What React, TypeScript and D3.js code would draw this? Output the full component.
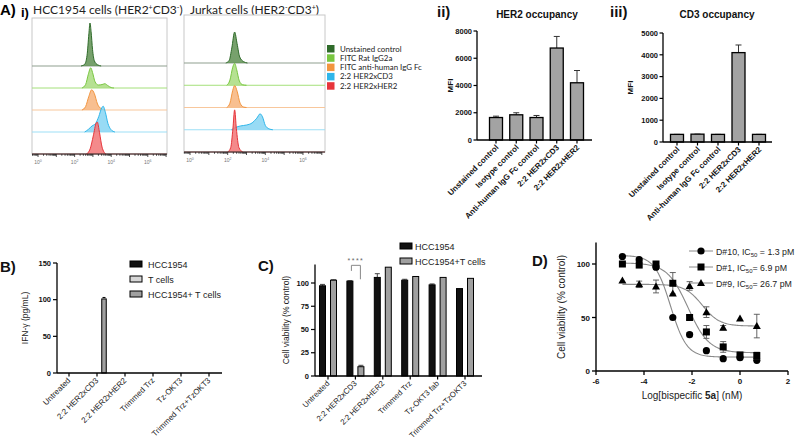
import React from 'react'
import * as d3 from 'd3'

const ARIAL = '"Liberation Sans", Arial, sans-serif'
const CALIBRI = 'Lato, "Open Sans", sans-serif'

// A i) flow histograms: [log10 fluorescence, relative count]
const flowSeries = ['Unstained control', 'FITC Rat IgG2a', 'FITC anti-human IgG Fc', '2:2 HER2xCD3', '2:2 HER2xHER2']
const flowStroke = ['#2f6b2a', '#78c640', '#f2953f', '#2fb6ea', '#e7353b']
const flowFill = ['#5f9152', '#a9dc7f', '#f7b47c', '#86d5f3', '#f27577']
const flowBase = ['#8f9f8f', '#a4e07a', '#f8c79c', '#9ddff6', '#f29a9a']
const flowDecades = [0, 2, 4, 6]

const hccHist: [number, number][][] = [
  [[2.35, 0], [2.55, 4], [2.68, 25], [2.78, 75], [2.84, 100], [2.9, 80], [2.98, 38], [3.08, 12], [3.25, 3], [3.45, 0]],
  [[2.4, 0], [2.6, 8], [2.75, 32], [2.88, 47], [2.98, 36], [3.12, 14], [3.3, 7], [3.5, 8], [3.65, 10], [3.8, 6], [4.0, 1], [4.15, 0]],
  [[2.4, 0], [2.6, 8], [2.78, 32], [2.93, 47], [3.08, 38], [3.25, 14], [3.45, 3], [3.65, 0]],
  [[2.55, 0], [2.75, 6], [2.95, 14], [3.15, 20], [3.32, 36], [3.48, 56], [3.56, 60], [3.68, 46], [3.82, 20], [3.98, 6], [4.2, 0]],
  [[2.65, 0], [2.85, 12], [3.02, 42], [3.18, 72], [3.24, 74], [3.36, 50], [3.5, 16], [3.7, 0]],
]
const jurkatHist: [number, number][][] = [
  [[1.9, 0], [2.08, 6], [2.22, 35], [2.37, 72], [2.5, 45], [2.64, 14], [2.85, 3], [3.05, 0]],
  [[1.95, 0], [2.12, 12], [2.27, 42], [2.37, 51], [2.48, 36], [2.62, 10], [2.8, 1], [3.0, 0]],
  [[1.95, 0], [2.12, 10], [2.27, 40], [2.37, 51], [2.5, 38], [2.66, 10], [2.85, 1], [3.0, 0]],
  [[2.2, 0], [2.4, 5], [2.7, 9], [3.0, 11], [3.3, 16], [3.55, 27], [3.72, 37], [3.85, 30], [4.0, 10], [4.2, 2], [4.4, 0]],
  [[2.0, 0], [2.16, 10], [2.28, 55], [2.37, 98], [2.46, 55], [2.6, 10], [2.8, 0]],
]

// A ii / iii) occupancy
const occCats = ['Unstained control', 'Isotype control', 'Anti-human IgG Fc control', '2:2 HER2xCD3', '2:2 HER2xHER2']
const her2Mean = [1650, 1850, 1650, 6750, 4200]
const her2Err = [100, 150, 150, 850, 900]
const cd3Mean = [350, 360, 350, 4100, 350]
const cd3Err = [0, 0, 0, 350, 0]

// B) IFN-gamma
const ifnCats = ['Untreated', '2:2 HER2xCD3', '2:2 HER2xHER2', 'Trimmed Trz', 'Tz-OKT3', 'Trimmed Trz+TzOKT3']
const ifnSeries = ['HCC1954', 'T cells', 'HCC1954+ T cells']
const ifnHcc = [0, 0, 0, 0, 0, 0]
const ifnT = [0, 0, 0, 0, 0, 0]
const ifnCo = [0, 101, 0, 0, 0, 0]
const ifnCoErr = [0, 2, 0, 0, 0, 0]

// C) viability
const viaCats = ['Untreated', '2:2 HER2xCD3', '2:2 HER2xHER2', 'Trimmed Trz', 'Tz-OKT3 fab', 'Trimmed Trz+TzOKT3']
const viaSeries = ['HCC1954', 'HCC1954+T cells']
const viaHcc = [97, 102, 106, 103, 98, 94]
const viaHccErr = [1.5, 0.5, 4, 1, 1, 0]
const viaCo = [103, 10, 117, 107, 106, 105]
const viaCoErr = [0.5, 1.5, 0, 0, 0, 0]

// D) dose response
const doseLog = [-4.9, -4.2, -3.5, -2.8, -2.1, -1.4, -0.7, 0, 0.7]
const donors = ['D#10', 'D#1', 'D#9']
const ic50Text = [' = 1.3 pM', '= 6.9 pM', '= 26.7 pM']
const d10Mean = [107, 104, 97, 50, 34, 19, 11.5, 12.5, 10]
const d10Err = [1, 1, 2, 1, 2, 1, 1, 1, 1]
const d1Mean = [100, 99, 100, 82, 50, 36.5, 22.5, 15, 14.5]
const d1Err = [1, 1, 2, 10, 2, 6, 5, 2, 3]
const d9Mean = [84.5, 81, 79, 72.5, 79.5, 55, 40.5, 49, 42]
const d9Err = [1, 3, 6, 1, 4, 5, 2, 1, 11]
// 4PL fit: top, bottom, logIC50 (nM), hill
const fitTop = [108, 101, 81]
const fitBottom = [13, 17, 42]
const fitLogIC50 = [-2.89, -2.16, -1.57]
const fitHill = [1.3, 1.0, 1.2]

function Sup({ children }: { children: React.ReactNode }) {
  return <tspan fontSize={7} dy={-4}>{children}</tspan>
}

function FlowPlot({ hist, x0, x1, y0, y1, firstBase, domain }: any) {
  const x = d3.scaleLinear().domain(domain).range([x0, x1])
  const h = d3.scaleLinear().domain([0, 100]).range([0, 43])
  const gap = (y1 - firstBase) / 4
  const minor: number[] = []
  d3.range(-1, 8).forEach(d => d3.range(1, 10).forEach(k => {
    const v = d + Math.log10(k)
    if (v >= domain[0] && v <= domain[1]) minor.push(v)
  }))
  return (
    <g>
      <rect x={x0} y={y0} width={x1 - x0} height={y1 - y0} fill="#fff" stroke="#c8c8c8" strokeWidth={1} />
      {hist.map((pts: [number, number][], i: number) => {
        const base = firstBase + i * gap
        const area = d3.area<[number, number]>()
          .x(d => x(d[0])).y0(base).y1(d => base - h(d[1]))
          .curve(d3.curveMonotoneX)
        const line = d3.line<[number, number]>()
          .x(d => x(d[0])).y(d => base - h(d[1]))
          .curve(d3.curveMonotoneX)
        return (
          <g key={i}>
            <line x1={x0} x2={x1} y1={base} y2={base} stroke={flowBase[i]} strokeWidth={1} />
            <path d={area(pts) || ''} fill={flowFill[i]} fillOpacity={0.85} />
            <path d={line(pts) || ''} fill="none" stroke={flowStroke[i]} strokeWidth={1} />
          </g>
        )
      })}
      <line x1={x0} x2={x1} y1={y1} y2={y1} stroke="#222" strokeWidth={1} />
      {minor.map((v, i) => (
        <line key={i} x1={x(v)} x2={x(v)} y1={y1} y2={y1 + (Math.abs(v - Math.round(v)) < 1e-6 ? 3 : 1.8)} stroke="#222" strokeWidth={0.8} />
      ))}
      {flowDecades.map(d => (
        <text key={d} x={x(d)} y={y1 + 10} fontSize={5} fill="#777" textAnchor="middle" fontFamily={ARIAL}>
          10<tspan fontSize={3.5} dy={-2}>{d}</tspan>
        </text>
      ))}
    </g>
  )
}

function Occupancy({ tag, tagX, title, titleX, mean, err, yMax, yStep, axisX, axisEnd, yBottom, yTop, xFirst, xLast, mfiX }: any) {
  const y = d3.scaleLinear().domain([0, yMax]).range([yBottom, yTop])
  const x = d3.scalePoint<string>().domain(occCats).range([xFirst, xLast])
  const bw = 13
  return (
    <g fontFamily={ARIAL} fill="#111">
      <text x={tagX} y={17} fontSize={15} fontWeight="bold">{tag}</text>
      <text x={titleX} y={18} fontSize={10} fontWeight="bold" textAnchor="middle">{title}</text>
      <text transform={`translate(${mfiX},${(yTop + yBottom) / 2}) rotate(-90)`} fontSize={8} fontWeight="bold" textAnchor="middle">MFI</text>
      {d3.range(0, yMax + 1, yStep).map(t => (
        <g key={t}>
          <line x1={axisX - 3.5} x2={axisX} y1={y(t)} y2={y(t)} stroke="#000" strokeWidth={1.2} />
          <text x={axisX - 5} y={y(t) + 2.7} fontSize={7.5} fontWeight="bold" textAnchor="end">{t}</text>
        </g>
      ))}
      {occCats.map((c, i) => {
        const cx = x(c)!
        return (
          <g key={c}>
            <line x1={cx} x2={cx} y1={y(mean[i])} y2={y(mean[i] + err[i])} stroke="#333" strokeWidth={1} />
            <line x1={cx - 3} x2={cx + 3} y1={y(mean[i] + err[i])} y2={y(mean[i] + err[i])} stroke="#333" strokeWidth={1} />
            <rect x={cx - bw / 2} y={y(mean[i])} width={bw} height={y(0) - y(mean[i])} fill="#a3a3a3" stroke="#000" strokeWidth={1.3} />
            <line x1={cx} x2={cx} y1={y(0)} y2={y(0) + 3.5} stroke="#000" strokeWidth={1.2} />
            <text transform={`translate(${cx + 3},${y(0) + 8}) rotate(-45)`} fontSize={8} fontWeight="bold" textAnchor="end">{c}</text>
          </g>
        )
      })}
      <line x1={axisX} x2={axisX} y1={yTop} y2={yBottom} stroke="#000" strokeWidth={1.3} />
      <line x1={axisX} x2={axisEnd} y1={yBottom} y2={yBottom} stroke="#000" strokeWidth={1.3} />
    </g>
  )
}

function PanelB() {
  const y = d3.scaleLinear().domain([0, 150]).range([373, 263])
  const x = d3.scalePoint<string>().domain(ifnCats).range([69, 209])
  const series = [ifnHcc, ifnT, ifnCo]
  const fills = ['#111', '#d6d6d6', '#a0a0a0']
  const bw = 4.5
  return (
    <g fontFamily={ARIAL} fill="#111">
      <text x={0} y={272} fontSize={15} fontWeight="bold">B)</text>
      <text transform={`translate(28,${(263 + 373) / 2}) rotate(-90)`} fontSize={8.5} textAnchor="middle" fill="#222">IFN-γ (pg/mL)</text>
      {y.ticks(3).map(t => (
        <g key={t}>
          <line x1={53} x2={57} y1={y(t)} y2={y(t)} stroke="#000" strokeWidth={1.2} />
          <text x={51} y={y(t) + 2.8} fontSize={7.5} fontWeight="bold" textAnchor="end">{t}</text>
        </g>
      ))}
      {ifnCats.map((c, i) => {
        const cx = x(c)!
        return (
          <g key={c}>
            {series.map((s, j) => s[i] > 0 && (
              <rect key={j} x={cx + (j - 1) * 7 - bw / 2} y={y(s[i])} width={bw} height={y(0) - y(s[i])} fill={fills[j]} stroke="#000" strokeWidth={1} />
            ))}
            {ifnCoErr[i] > 0 && (
              <line x1={cx + 5.5} x2={cx + 8.5} y1={y(ifnCo[i] + ifnCoErr[i])} y2={y(ifnCo[i] + ifnCoErr[i])} stroke="#000" strokeWidth={1} />
            )}
            <line x1={cx} x2={cx} y1={373} y2={376.5} stroke="#000" strokeWidth={1.2} />
            <text transform={`translate(${cx + 2},381) rotate(-45)`} fontSize={8} textAnchor="end" fill="#222">{c}</text>
          </g>
        )
      })}
      <line x1={57} x2={57} y1={263} y2={373} stroke="#000" strokeWidth={1.3} />
      <line x1={57} x2={222} y1={373} y2={373} stroke="#000" strokeWidth={1.3} />
      {ifnSeries.map((s, j) => (
        <g key={s}>
          <rect x={130} y={261 + j * 15} width={12} height={6} fill={fills[j]} stroke="#000" strokeWidth={1} />
          <text x={148} y={267.5 + j * 15} fontSize={9} fill="#222">{s}</text>
        </g>
      ))}
    </g>
  )
}

function PanelC() {
  const y = d3.scaleLinear().domain([0, 120]).range([376, 264.4])
  const x = d3.scalePoint<string>().domain(viaCats).range([328, 465])
  const bw = 6
  const series = [viaHcc, viaCo]
  const errs = [viaHccErr, viaCoErr]
  const fills = ['#111', '#a0a0a0']
  const c2 = x(viaCats[1])!
  return (
    <g fontFamily={ARIAL} fill="#111">
      <text x={258} y={271} fontSize={15} fontWeight="bold">C)</text>
      <text transform={`translate(289,${(264 + 376) / 2}) rotate(-90)`} fontSize={8.5} textAnchor="middle" fill="#222">Cell viability (% control)</text>
      {d3.range(0, 101, 25).map(t => (
        <g key={t}>
          <line x1={311} x2={315} y1={y(t)} y2={y(t)} stroke="#000" strokeWidth={1.2} />
          <text x={309} y={y(t) + 2.6} fontSize={7.5} fontWeight="bold" textAnchor="end">{t}</text>
        </g>
      ))}
      {viaCats.map((c, i) => {
        const cx = x(c)!
        return (
          <g key={c}>
            {series.map((s, j) => {
              const bx = cx + (j === 0 ? -5.5 : 5.5)
              return (
                <g key={j}>
                  {errs[j][i] > 0 && (
                    <g>
                      <line x1={bx} x2={bx} y1={y(s[i])} y2={y(s[i] + errs[j][i])} stroke="#444" strokeWidth={1} />
                      <line x1={bx - 2.5} x2={bx + 2.5} y1={y(s[i] + errs[j][i])} y2={y(s[i] + errs[j][i])} stroke="#444" strokeWidth={1} />
                    </g>
                  )}
                  <rect x={bx - bw / 2} y={y(s[i])} width={bw} height={y(0) - y(s[i])} fill={fills[j]} stroke="#000" strokeWidth={1} />
                </g>
              )
            })}
            <line x1={cx} x2={cx} y1={376} y2={379.5} stroke="#000" strokeWidth={1.2} />
            <text transform={`translate(${cx + 2},384) rotate(-45)`} fontSize={7.8} textAnchor="end" fill="#222">{c}</text>
          </g>
        )
      })}
      <path d={`M${c2 - 4},${y(113)}V${y(119)}H${c2 + 5}V${y(104)}`} fill="none" stroke="#888" strokeWidth={1} />
      <text x={c2 + 0.5} y={y(121.5)} fontSize={7} textAnchor="middle" fill="#666" letterSpacing={1.5}>****</text>
      <line x1={315} x2={315} y1={264.4} y2={376} stroke="#000" strokeWidth={1.3} />
      <line x1={315} x2={482} y1={376} y2={376} stroke="#000" strokeWidth={1.3} />
      {viaSeries.map((s, j) => (
        <g key={s}>
          <rect x={400} y={243 + j * 15} width={12} height={6} fill={fills[j]} stroke="#000" strokeWidth={1} />
          <text x={415} y={249.5 + j * 15} fontSize={9} fill="#222">{s}</text>
        </g>
      ))}
    </g>
  )
}

function Marker({ kind, cx, cy }: { kind: number; cx: number; cy: number }) {
  if (kind === 0) return <circle cx={cx} cy={cy} r={3.6} fill="#000" />
  if (kind === 1) return <rect x={cx - 3.5} y={cy - 3.5} width={7} height={7} fill="#000" />
  return <path d={`M${cx},${cy - 4}L${cx + 4},${cy + 3}L${cx - 4},${cy + 3}Z`} fill="#000" />
}

function PanelD() {
  const x = d3.scaleLinear().domain([-6, 2]).range([596, 788])
  const y = d3.scaleLinear().domain([0, 120]).range([371, 242.6])
  const means = [d10Mean, d1Mean, d9Mean]
  const errs = [d10Err, d1Err, d9Err]
  const curveX = d3.range(doseLog[0], doseLog[doseLog.length - 1] + 0.001, 0.05)
  return (
    <g fontFamily={ARIAL} fill="#111">
      <text x={532} y={266} fontSize={15} fontWeight="bold">D)</text>
      <text transform={`translate(565,${(243 + 371) / 2}) rotate(-90)`} fontSize={10} textAnchor="middle" fill="#222">Cell viability (% control)</text>
      {[0, 50, 100].map(t => (
        <g key={t}>
          <line x1={592} x2={596} y1={y(t)} y2={y(t)} stroke="#000" strokeWidth={1.3} />
          <text x={590} y={y(t) + 3} fontSize={8} fontWeight="bold" textAnchor="end">{t}</text>
        </g>
      ))}
      {x.ticks(4).map(t => (
        <g key={t}>
          <line x1={x(t)} x2={x(t)} y1={371} y2={375} stroke="#000" strokeWidth={1.3} />
          <text x={x(t)} y={384} fontSize={8} fontWeight="bold" textAnchor="middle">{t}</text>
        </g>
      ))}
      <text x={692} y={399} fontSize={10} textAnchor="middle" fill="#222">Log[bispecific <tspan fontWeight="bold">5a</tspan>] (nM)</text>
      {donors.map((dn, k) => {
        const fit = d3.line<number>()
          .x(v => x(v))
          .y(v => y(fitBottom[k] + (fitTop[k] - fitBottom[k]) / (1 + Math.pow(10, (v - fitLogIC50[k]) * fitHill[k]))))
        return <path key={dn} d={fit(curveX) || ''} fill="none" stroke="#8a8a8a" strokeWidth={1.1} />
      })}
      {donors.map((dn, k) => (
        <g key={dn}>
          {doseLog.map((lx, i) => (
            <g key={i}>
              {errs[k][i] > 1.5 && (
                <g stroke="#555" strokeWidth={0.9}>
                  <line x1={x(lx)} x2={x(lx)} y1={y(means[k][i] - errs[k][i])} y2={y(means[k][i] + errs[k][i])} />
                  <line x1={x(lx) - 3} x2={x(lx) + 3} y1={y(means[k][i] - errs[k][i])} y2={y(means[k][i] - errs[k][i])} />
                  <line x1={x(lx) - 3} x2={x(lx) + 3} y1={y(means[k][i] + errs[k][i])} y2={y(means[k][i] + errs[k][i])} />
                </g>
              )}
              <Marker kind={k} cx={x(lx)} cy={y(means[k][i])} />
            </g>
          ))}
        </g>
      ))}
      <line x1={596} x2={596} y1={242.6} y2={371} stroke="#000" strokeWidth={1.4} />
      <line x1={596} x2={788} y1={371} y2={371} stroke="#000" strokeWidth={1.4} />
      {donors.map((dn, k) => (
        <g key={dn}>
          <line x1={689} x2={713} y1={251 + k * 16} y2={251 + k * 16} stroke="#8a8a8a" strokeWidth={1} />
          <Marker kind={k} cx={701} cy={251 + k * 16} />
          <text x={716} y={254.5 + k * 16} fontSize={8.8} fill="#222">
            {dn}, IC<tspan fontSize={6} dy={2}>50</tspan><tspan dy={-2}>{ic50Text[k]}</tspan>
          </text>
        </g>
      ))}
    </g>
  )
}

export default function App() {
  return (
    <div style={{ position: 'absolute', left: 0, top: 0 }}>
      <svg width={797} height={446} style={{ display: 'block', background: '#fff' }}>
        <g fontFamily={ARIAL}>
          <text x={0} y={15} fontSize={15} fontWeight="bold">A)</text>
          <text x={21} y={17} fontSize={13} fontWeight="bold">i)</text>
        </g>
        <g fontFamily={CALIBRI} fill="#222">
          <text x={33} y={14} fontSize={12}>HCC1954 cells (HER2<Sup>+</Sup><tspan dy={4}>CD3</tspan><Sup>-</Sup><tspan dy={4}>)</tspan></text>
          <text x={190} y={14} fontSize={12}>Jurkat cells (HER2<Sup>-</Sup><tspan dy={4}>CD3</tspan><Sup>+</Sup><tspan dy={4}>)</tspan></text>
        </g>
        <FlowPlot hist={hccHist} x0={32} x1={167} y0={18} y1={154} firstBase={66} domain={[-0.33, 7.05]} />
        <FlowPlot hist={jurkatHist} x0={184} x1={325} y0={15} y1={152} firstBase={63} domain={[-0.32, 7.17]} />
        <g fontFamily={CALIBRI}>
          {flowSeries.map((s, i) => (
            <g key={s}>
              <rect x={327} y={45 + i * 9.3} width={7.5} height={7.5} fill={flowStroke[i]} />
              <text x={340} y={51.5 + i * 9.3} fontSize={7.9} fill="#222">{s}</text>
            </g>
          ))}
        </g>
        <Occupancy tag="ii)" tagX={437} title="HER2 occupancy" titleX={537} mean={her2Mean} err={her2Err}
          yMax={8000} yStep={2000} axisX={477} axisEnd={592} yBottom={140} yTop={31} xFirst={496} xLast={577} mfiX={453} />
        <Occupancy tag="iii)" tagX={610} title="CD3 occupancy" titleX={717} mean={cd3Mean} err={cd3Err}
          yMax={5000} yStep={1000} axisX={663} axisEnd={772} yBottom={142} yTop={33} xFirst={677} xLast={759} mfiX={633} />
        <PanelB />
        <PanelC />
        <PanelD />
      </svg>
    </div>
  )
}
